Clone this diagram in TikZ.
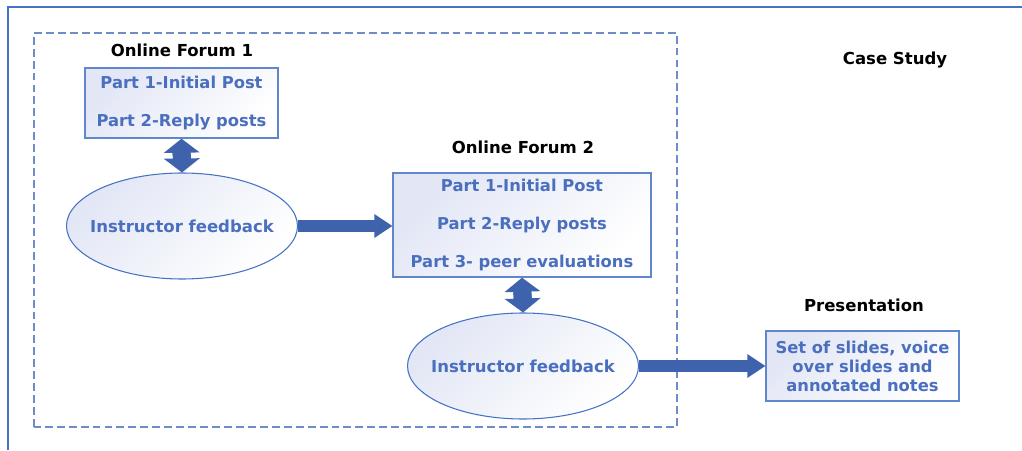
\documentclass[tikz,border=0pt]{standalone}
\usepackage{fontspec}
\setmainfont{DejaVu Sans}
\usetikzlibrary{arrows.meta,shapes.geometric}
\definecolor{framecol}{HTML}{4472C4}
\definecolor{dashcol}{HTML}{6F8CC8}
\definecolor{partcol}{HTML}{4A6FBE}
\definecolor{arrowcol}{HTML}{3F62AD}
\definecolor{boxfill}{HTML}{E2E6F5}

\begin{document}
\begin{tikzpicture}[
    title/.style={font=\bfseries\fontsize{9.4}{11}\selectfont},
    partbox/.style={draw=framecol!85, line width=0.8pt, top color=boxfill, bottom color=white,
      shading angle=45, text=partcol, font=\bfseries\fontsize{9.3}{10.8}\selectfont,
      align=center, inner sep=2pt},
    feedback/.style={ellipse, draw=framecol, line width=0.6pt, top color=boxfill, bottom color=white,
      shading angle=45, minimum width=4.62cm, minimum height=2.12cm, inner sep=0pt,
      label={[text=partcol, font=\bfseries\fontsize{9.4}{11}\selectfont]center:#1}},
    fwd/.style={arrowcol, line width=0.24cm,
      -{Triangle[length=0.36cm,width=0.48cm,line width=0pt]},
      postaction={draw, -, shorten >=0.3cm}},
    both/.style={arrowcol, line width=0.36cm,
      {Triangle[length=0.28cm,width=0.72cm,line width=0pt]}-{Triangle[length=0.28cm,width=0.72cm,line width=0pt]},
      postaction={draw, -, shorten <=0.22cm, shorten >=0.22cm}}
  ]
  \useasboundingbox (0,0) rectangle (20.44,9);
  % outer frame and dashed group
  \draw[framecol, line width=0.8pt] (0.16,0) -- (0.16,8.86) -- (20.44,8.86);
  \draw[dashcol, line width=0.8pt, dash pattern=on 4.5pt off 2.3pt] (0.68,0.46) rectangle (13.54,8.34);

  % forum 1
  \node[title] (forumA) at (3.64,8.0) {Online Forum 1};
  \node[partbox, minimum width=3.86cm, minimum height=1.4cm] (postsA) at (3.63,6.94)
    {Part 1-Initial Post\\[11pt]Part 2-Reply posts};
  \node[feedback={Instructor feedback}] (feedA) at (3.64,4.48) {};

  % forum 2
  \node[title] (forumB) at (10.46,6.06) {Online Forum 2};
  \node[partbox, minimum width=5.16cm, minimum height=2.08cm] (postsB) at (10.44,4.5)
    {Part 1-Initial Post\\[11pt]Part 2-Reply posts\\[11pt]Part 3- peer evaluations};
  \node[feedback={Instructor feedback}] (feedB) at (10.46,1.68) {};

  % presentation
  \node[title] (caseB) at (17.9,7.8) {Case Study};
  \node[title] (present) at (17.28,2.9) {Presentation};
  \node[partbox, minimum width=3.86cm, minimum height=1.4cm] (slides) at (17.25,1.68)
    {Set of slides, voice\\over slides and\\annotated notes};

  \draw[both] (postsA.south) -- (feedA.north);
  \draw[both] (postsB.south) -- (feedB.north);
  \draw[fwd] (feedA.east) -- (feedA.east -| postsB.west);
  \draw[fwd] (feedB.east) -- (slides.west);
\end{tikzpicture}
\end{document}
